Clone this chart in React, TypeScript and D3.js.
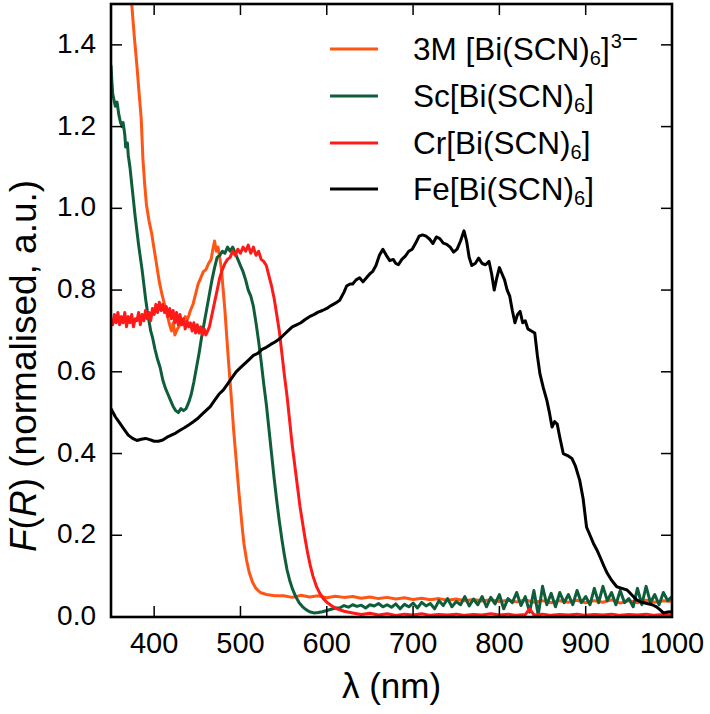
import React from "react";
import * as d3 from "d3";

const xTicks = [400, 500, 600, 700, 800, 900, 1000];
const yTicks = [0, 0.2, 0.4, 0.6, 0.8, 1.0, 1.2, 1.4];

const seriesNames = ["3M", "Sc", "Cr", "Fe"];

const bi3M: [number, number][] = [
  [350, 2.4], [355, 2.15], [360, 1.95], [364, 1.8], [368, 1.67], [371, 1.57], [374, 1.5], [377, 1.42],
  [380, 1.35], [383, 1.27], [385, 1.22], [387, 1.12], [389, 1.06], [391, 1.01], [394, 0.97], [397, 0.94],
  [400, 0.9], [403, 0.86], [406, 0.82], [409, 0.79], [412, 0.765], [415, 0.74], [418, 0.715], [420, 0.7],
  [422, 0.72], [424, 0.69], [427, 0.705], [430, 0.715], [433, 0.72], [436, 0.735], [439, 0.73], [442, 0.75],
  [445, 0.765], [448, 0.79], [451, 0.815], [454, 0.83], [457, 0.845], [460, 0.85], [463, 0.865], [466, 0.875],
  [468, 0.9], [470, 0.92], [472, 0.895], [474, 0.905], [476, 0.88], [478, 0.85], [480, 0.8], [482, 0.75],
  [484, 0.69], [486, 0.63], [488, 0.575], [490, 0.52], [492, 0.46], [494, 0.41], [496, 0.36], [498, 0.31],
  [500, 0.265], [502, 0.22], [504, 0.18], [507, 0.14], [510, 0.11], [514, 0.085], [518, 0.07], [523, 0.06],
  [530, 0.055], [540, 0.052], [550, 0.052], [560, 0.048], [570, 0.053], [580, 0.049], [590, 0.052], [600, 0.047],
  [610, 0.051], [620, 0.048], [630, 0.05], [640, 0.046], [650, 0.049], [660, 0.045], [670, 0.048], [680, 0.044],
  [690, 0.047], [700, 0.043], [710, 0.046], [720, 0.042], [730, 0.045], [740, 0.041], [750, 0.044], [760, 0.04],
  [770, 0.043], [780, 0.039], [790, 0.042], [800, 0.038], [810, 0.041], [820, 0.037], [830, 0.042], [840, 0.036],
  [850, 0.04], [860, 0.035], [870, 0.04], [880, 0.036], [890, 0.041], [900, 0.035], [910, 0.04], [920, 0.036],
  [930, 0.042], [940, 0.034], [950, 0.04], [960, 0.035], [970, 0.041], [980, 0.036], [990, 0.04], [1000, 0.038],
];

const sc: [number, number][] = [
  [350, 1.35], [351, 1.31], [352, 1.28], [353, 1.27], [355, 1.25], [357, 1.26], [359, 1.23], [361, 1.21],
  [363, 1.2], [364, 1.21], [366, 1.18], [367, 1.15], [369, 1.16], [370, 1.13], [372, 1.1], [374, 1.06],
  [376, 1.02], [378, 0.98], [380, 0.945], [382, 0.91], [384, 0.88], [386, 0.85], [388, 0.815], [390, 0.78],
  [392, 0.75], [394, 0.725], [396, 0.7], [398, 0.685], [401, 0.655], [404, 0.63], [407, 0.61], [410, 0.58],
  [413, 0.56], [416, 0.545], [419, 0.53], [422, 0.515], [425, 0.505], [428, 0.5], [431, 0.51], [434, 0.505],
  [437, 0.51], [440, 0.525], [443, 0.545], [446, 0.575], [449, 0.61], [452, 0.645], [455, 0.685], [458, 0.72],
  [461, 0.755], [464, 0.79], [467, 0.825], [470, 0.855], [473, 0.88], [476, 0.885], [479, 0.895], [482, 0.89],
  [485, 0.905], [488, 0.895], [491, 0.905], [494, 0.89], [497, 0.875], [500, 0.86], [503, 0.845], [506, 0.825],
  [509, 0.8], [512, 0.785], [515, 0.76], [518, 0.72], [521, 0.675], [524, 0.625], [527, 0.57], [530, 0.52],
  [533, 0.46], [536, 0.4], [539, 0.34], [542, 0.285], [545, 0.235], [548, 0.19], [551, 0.15], [554, 0.115],
  [557, 0.09], [560, 0.07], [564, 0.05], [568, 0.035], [572, 0.025], [576, 0.018], [580, 0.013], [585, 0.01],
  [590, 0.011], [595, 0.013], [600, 0.016], [605, 0.019], [610, 0.022], [615, 0.022], [620, 0.028], [625, 0.024],
  [630, 0.03], [635, 0.026], [640, 0.029], [645, 0.022], [650, 0.03], [655, 0.027], [660, 0.033], [665, 0.025],
  [670, 0.03], [675, 0.024], [680, 0.032], [685, 0.02], [690, 0.031], [695, 0.025], [700, 0.034], [705, 0.022],
  [710, 0.036], [715, 0.027], [720, 0.033], [725, 0.02], [730, 0.04], [735, 0.028], [740, 0.045], [745, 0.025],
  [750, 0.038], [755, 0.03], [760, 0.05], [765, 0.027], [770, 0.044], [775, 0.03], [780, 0.05], [785, 0.025],
  [790, 0.048], [795, 0.032], [800, 0.055], [805, 0.02], [810, 0.045], [815, 0.035], [820, 0.06], [825, 0.028],
  [830, 0.05], [835, 0.012], [840, 0.065], [845, 0.005], [850, 0.075], [855, 0.03], [860, 0.058], [865, 0.025],
  [870, 0.06], [875, 0.035], [880, 0.055], [885, 0.03], [890, 0.065], [895, 0.035], [900, 0.05], [905, 0.03],
  [910, 0.07], [915, 0.035], [920, 0.075], [925, 0.04], [930, 0.06], [935, 0.03], [940, 0.065], [945, 0.035],
  [950, 0.045], [955, 0.025], [960, 0.07], [965, 0.03], [970, 0.075], [975, 0.035], [980, 0.055], [985, 0.03],
  [990, 0.06], [995, 0.04], [1000, 0.05],
];

const cr: [number, number][] = [
  [350, 0.73], [352, 0.715], [354, 0.74], [356, 0.72], [358, 0.745], [360, 0.715], [362, 0.735], [364, 0.72],
  [366, 0.745], [368, 0.71], [370, 0.735], [372, 0.72], [374, 0.74], [376, 0.71], [378, 0.73], [380, 0.725],
  [382, 0.745], [384, 0.715], [386, 0.74], [388, 0.725], [390, 0.75], [392, 0.73], [394, 0.745], [396, 0.725],
  [398, 0.755], [400, 0.74], [402, 0.765], [404, 0.745], [406, 0.77], [408, 0.75], [410, 0.765], [412, 0.745],
  [414, 0.76], [416, 0.735], [418, 0.755], [420, 0.73], [422, 0.75], [424, 0.72], [426, 0.745], [428, 0.715],
  [430, 0.74], [432, 0.715], [434, 0.73], [436, 0.705], [438, 0.725], [440, 0.71], [442, 0.72], [444, 0.7],
  [446, 0.72], [448, 0.695], [450, 0.715], [452, 0.695], [454, 0.71], [456, 0.69], [458, 0.705], [460, 0.69],
  [462, 0.7], [464, 0.71], [467, 0.74],
  [470, 0.77], [473, 0.8], [476, 0.83], [479, 0.85], [482, 0.865], [485, 0.875], [488, 0.88], [491, 0.895],
  [494, 0.885], [497, 0.9], [500, 0.89], [503, 0.905], [506, 0.895], [509, 0.91], [512, 0.89], [515, 0.905],
  [518, 0.885], [521, 0.895], [524, 0.875], [527, 0.87], [530, 0.86], [533, 0.835], [536, 0.81], [539, 0.78],
  [542, 0.74], [545, 0.7], [548, 0.645], [551, 0.59], [554, 0.54], [557, 0.48], [560, 0.42], [563, 0.37],
  [566, 0.32], [569, 0.27], [572, 0.23], [575, 0.19], [578, 0.155], [581, 0.125], [584, 0.1], [588, 0.075],
  [592, 0.058], [596, 0.045], [600, 0.036], [606, 0.027], [612, 0.02], [620, 0.014], [630, 0.01], [640, 0.006],
  [650, 0.009], [660, 0.005], [670, 0.008], [680, 0.004], [690, 0.007], [700, 0.005], [710, 0.008], [720, 0.004],
  [730, 0.006], [740, 0.005], [750, 0.007], [760, 0.004], [770, 0.006], [780, 0.005], [790, 0.008], [800, 0.005],
  [810, 0.007], [820, 0.004], [830, 0.006], [835, 0.02], [840, 0.005], [850, 0.007], [860, 0.004], [870, 0.006],
  [880, 0.005], [890, 0.007], [900, 0.004], [910, 0.006], [920, 0.005], [930, 0.007], [940, 0.004], [950, 0.006],
  [960, 0.005], [970, 0.007], [980, 0.004], [990, 0.006], [1000, 0.005],
];

const fe: [number, number][] = [
  [350, 0.51], [355, 0.49], [360, 0.475], [365, 0.46], [370, 0.445], [375, 0.437], [380, 0.432], [385, 0.435],
  [390, 0.437], [395, 0.434], [400, 0.43], [405, 0.43], [410, 0.433], [415, 0.44], [420, 0.445], [425, 0.45],
  [430, 0.457], [435, 0.463], [440, 0.47], [445, 0.477], [450, 0.485], [455, 0.495], [460, 0.505], [465, 0.515],
  [470, 0.53], [475, 0.545], [480, 0.555], [485, 0.57], [490, 0.585], [495, 0.6], [500, 0.61], [505, 0.62],
  [510, 0.63], [515, 0.64], [520, 0.645], [525, 0.655], [530, 0.66], [535, 0.667], [540, 0.673], [545, 0.68],
  [550, 0.69], [555, 0.7], [560, 0.71], [565, 0.715], [570, 0.72], [575, 0.728], [580, 0.735], [585, 0.74],
  [590, 0.746], [595, 0.75], [600, 0.755], [605, 0.762], [610, 0.768], [615, 0.775], [620, 0.795], [623, 0.81],
  [627, 0.815], [630, 0.815], [634, 0.825], [638, 0.83], [642, 0.82], [646, 0.83], [650, 0.84], [653, 0.845],
  [657, 0.86], [661, 0.885], [665, 0.9], [669, 0.885], [673, 0.872], [677, 0.875], [680, 0.865], [683, 0.862],
  [687, 0.875], [691, 0.883], [695, 0.895], [699, 0.9], [703, 0.915], [707, 0.932], [711, 0.935], [715, 0.932],
  [719, 0.925], [723, 0.914], [727, 0.93], [731, 0.926], [735, 0.915], [739, 0.912], [743, 0.905], [747, 0.893],
  [751, 0.9], [755, 0.92], [759, 0.945], [762, 0.92], [765, 0.88], [768, 0.86], [772, 0.865], [776, 0.878],
  [780, 0.865], [784, 0.862], [788, 0.87], [791, 0.84], [794, 0.8], [797, 0.83], [800, 0.855], [803, 0.84],
  [806, 0.825], [809, 0.8], [812, 0.785], [815, 0.75], [818, 0.72], [821, 0.74], [824, 0.748], [827, 0.72],
  [830, 0.725], [833, 0.705], [837, 0.7], [841, 0.695], [844, 0.64], [847, 0.595], [851, 0.56], [855, 0.53],
  [858, 0.5], [861, 0.465], [864, 0.478], [867, 0.472], [870, 0.44], [874, 0.4], [879, 0.395], [884, 0.388],
  [888, 0.37], [893, 0.335], [897, 0.29], [901, 0.22], [905, 0.2], [909, 0.18], [913, 0.164], [917, 0.145],
  [921, 0.125], [925, 0.107], [930, 0.09], [936, 0.074], [942, 0.07], [948, 0.066], [953, 0.055], [959, 0.042],
  [965, 0.036], [971, 0.033], [977, 0.03], [982, 0.025], [986, 0.018], [990, 0.01], [995, 0.012], [1000, 0.013],
];

const W = 710;
const H = 714;
const M = { left: 111, right: 38, top: 4, bottom: 97 };
const FONT = "'Liberation Sans', Arial, Helvetica, sans-serif";

const colors = ["#ff5515", "#0f5e3b", "#ff1a1a", "#000000"];

export default function App() {
  const x = d3.scaleLinear().domain([350, 1000]).range([M.left, W - M.right]);
  const y = d3.scaleLinear().domain([0, 1.5]).range([H - M.bottom, M.top]);
  const line = d3
    .line<[number, number]>()
    .x((d) => x(d[0]))
    .y((d) => y(d[1]));
  const data = [bi3M, sc, cr, fe];
  const x0 = M.left;
  const x1 = W - M.right;
  const y0 = H - M.bottom;
  const y1 = M.top;
  const tickLen = 11;
  const fmt = d3.format(".1f");

  const legendY = [49, 96, 143, 189];
  const legFs = 31.5;
  const subFs = 20;

  return (
    <svg
      width={W}
      height={H}
      style={{ position: "absolute", left: 0, top: 0, background: "#fff" }}
      fontFamily={FONT}
    >
      <defs>
        <clipPath id="plotClip">
          <rect x={x0} y={y1} width={x1 - x0} height={y0 - y1} />
        </clipPath>
      </defs>
      <rect x={0} y={0} width={W} height={H} fill="#fff" />
      <g clipPath="url(#plotClip)">
        {data.map((d, i) => (
          <path
            key={seriesNames[i]}
            d={line(d) || ""}
            fill="none"
            stroke={colors[i]}
            strokeWidth={3}
            strokeLinejoin="round"
          />
        ))}
      </g>
      {/* ticks */}
      <g stroke="#000" strokeWidth={1.5}>
        {xTicks.map((t) => (
          <g key={"xt" + t}>
            <line x1={x(t)} x2={x(t)} y1={y0} y2={y0 - tickLen} />
            <line x1={x(t)} x2={x(t)} y1={y1} y2={y1 + tickLen} />
          </g>
        ))}
        {yTicks.map((t) => (
          <g key={"yt" + t}>
            <line x1={x0} x2={x0 + tickLen} y1={y(t)} y2={y(t)} />
            <line x1={x1} x2={x1 - tickLen} y1={y(t)} y2={y(t)} />
          </g>
        ))}
      </g>
      <rect x={x0} y={y1} width={x1 - x0} height={y0 - y1} fill="none" stroke="#000" strokeWidth={2.6} />
      {/* tick labels */}
      {xTicks.map((t) => (
        <text key={"xl" + t} x={x(t)} y={653} fontSize={29} textAnchor="middle" fill="#000">
          {t}
        </text>
      ))}
      {yTicks.map((t) => (
        <text key={"yl" + t} x={96} y={y(t) + 8} fontSize={28} textAnchor="end" fill="#000">
          {fmt(t)}
        </text>
      ))}
      {/* axis labels */}
      <text x={(x0 + x1) / 2} y={698} fontSize={35} textAnchor="middle" fill="#000">
        λ (nm)
      </text>
      <text transform={`translate(36, 552) rotate(-90)`} fontSize={37} textAnchor="start" fill="#000">
        <tspan fontStyle="italic">F</tspan>(<tspan fontStyle="italic">R</tspan>) (normalised, a.u.)
      </text>
      {/* legend */}
      {legendY.map((ly, i) => (
        <line key={"ll" + i} x1={330} x2={378} y1={ly} y2={ly} stroke={colors[i]} strokeWidth={3} />
      ))}
      <text x={413} y={legendY[0] + 11} fontSize={legFs} fill="#000">
        3M [Bi(SCN)<tspan fontSize={subFs} dy={5}>6</tspan>
        <tspan dy={-5}>]</tspan>
        <tspan fontSize={subFs} dy={-12} dx={1}>3</tspan>
        <tspan fontSize={28} dy={0}>−</tspan>
      </text>
      <text x={413} y={legendY[1] + 11} fontSize={legFs} fill="#000">
        Sc[Bi(SCN)<tspan fontSize={subFs} dy={5}>6</tspan>
        <tspan dy={-5}>]</tspan>
      </text>
      <text x={413} y={legendY[2] + 11} fontSize={legFs} fill="#000">
        Cr[Bi(SCN)<tspan fontSize={subFs} dy={5}>6</tspan>
        <tspan dy={-5}>]</tspan>
      </text>
      <text x={413} y={legendY[3] + 11} fontSize={legFs} fill="#000">
        Fe[Bi(SCN)<tspan fontSize={subFs} dy={5}>6</tspan>
        <tspan dy={-5}>]</tspan>
      </text>
    </svg>
  );
}
